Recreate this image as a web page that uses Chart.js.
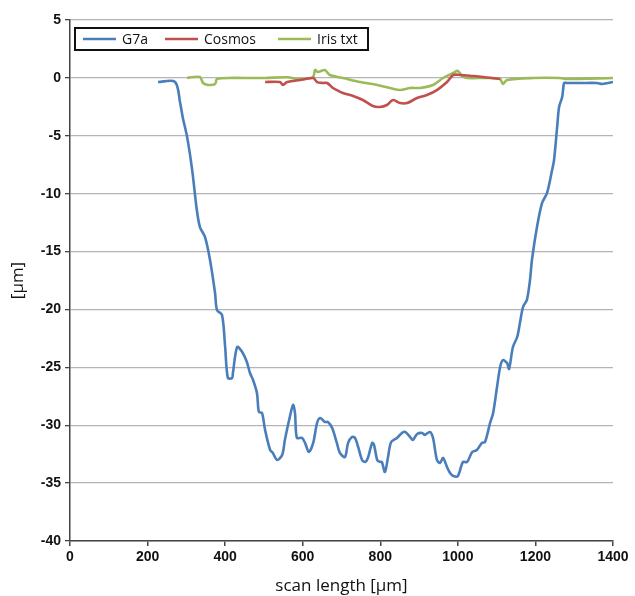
<!DOCTYPE html>
<html>
<head>
<meta charset="utf-8">
<script src="https://cdn.jsdelivr.net/npm/chart.js@4/dist/chart.umd.min.js"></script>
<style>
  html, body { margin: 0; padding: 0; background: #fff; }
  #wrap { width: 635px; height: 596px; }
</style>
</head>
<body>
<div id="wrap"><canvas id="perfil"></canvas></div>
<script>
const g7aX = [227, 271, 284, 291, 302, 315, 327, 335, 348, 361, 374, 379, 392, 400, 407, 418, 420, 431, 444, 456, 464, 472, 482, 487, 495, 503, 516, 523, 534, 547, 554, 565, 575, 580, 585, 598, 606, 616, 627, 637, 645, 657, 665, 676, 688, 696, 709, 717, 727, 735, 743, 753, 761, 768, 779, 784, 792, 799, 804, 812, 820, 828, 843, 856, 864, 877, 884, 895, 908, 915, 928, 936, 946, 954, 962, 972, 980, 988, 1000, 1013, 1024, 1037, 1049, 1062, 1070, 1083, 1091, 1101, 1109, 1116, 1127, 1132, 1142, 1153, 1160, 1168, 1178, 1186, 1191, 1204, 1217, 1230, 1243, 1248, 1256, 1261, 1269, 1274, 1281, 1315, 1359, 1372, 1387, 1400];
const g7aY = [-0.35, -0.35, -2.17, -3.46, -5.11, -7.96, -11.41, -12.88, -13.74, -15.73, -18.58, -20.05, -20.48, -23.24, -25.92, -25.92, -25.49, -23.24, -23.67, -24.54, -25.49, -26.09, -27.22, -28.86, -28.94, -30.41, -32.14, -32.40, -33.0, -32.57, -31.28, -29.55, -28.25, -28.94, -31.10, -31.10, -31.53, -32.31, -31.53, -29.81, -29.38, -29.72, -29.72, -30.24, -31.53, -32.40, -32.74, -31.53, -31.02, -31.10, -31.88, -33.0, -33.17, -32.83, -31.53, -31.71, -33.0, -33.17, -33.17, -34.04, -32.74, -31.45, -31.10, -30.67, -30.58, -31.02, -31.28, -30.76, -30.67, -30.84, -30.58, -31.10, -33.0, -33.26, -32.83, -33.61, -34.13, -34.39, -34.39, -33.17, -33.17, -32.31, -32.14, -31.53, -31.45, -29.81, -28.94, -26.70, -24.97, -24.37, -24.63, -25.14, -23.24, -22.38, -21.17, -19.79, -19.18, -17.46, -15.73, -12.88, -10.81, -9.94, -7.96, -7.09, -4.24, -2.51, -1.65, -0.44, -0.44, -0.44, -0.44, -0.53, -0.44, -0.35];

const cosmosX = [503, 541, 549, 560, 593, 627, 637, 652, 663, 678, 688, 704, 730, 755, 781, 799, 817, 833, 851, 869, 895, 920, 946, 972, 988, 1006, 1039, 1065, 1088, 1109];
const cosmosY = [-0.36, -0.36, -0.61, -0.36, -0.18, -0.01, -0.36, -0.44, -0.44, -0.87, -1.05, -1.31, -1.56, -1.91, -2.43, -2.51, -2.34, -1.91, -2.17, -2.17, -1.74, -1.48, -1.05, -0.36, 0.25, 0.25, 0.16, 0.08, -0.01, -0.10];

const irisX = [302, 335, 343, 356, 374, 379, 420, 464, 503, 560, 593, 626, 632, 639, 657, 670, 704, 748, 792, 825, 851, 877, 902, 936, 962, 988, 1000, 1011, 1024, 1075, 1109, 1116, 1127, 1194, 1263, 1281, 1400];
const irisY = [0, 0.08, -0.44, -0.61, -0.53, -0.10, 0, -0.01, -0.01, 0.05, -0.10, 0.05, 0.68, 0.51, 0.68, 0.25, -0.01, -0.36, -0.61, -0.87, -1.05, -0.87, -0.87, -0.61, -0.01, 0.42, 0.60, 0.16, -0.01, -0.01, -0.10, -0.53, -0.18, -0.01, -0.01, -0.10, -0.01];

const etiquetas = ['G7a', 'Cosmos', 'Iris txt'];
const colores = ['#4a7ebb', '#c0504d', '#9bbb59'];

function puntos(xs, ys) {
    return xs.map((x, i) => ({ x: x, y: ys[i] }));
}

const fuente = "'Open Sans', Lato, sans-serif";
const fuenteEjes = "'Liberation Sans', 'DejaVu Sans', sans-serif";

// Leyenda con recuadro dentro del área del gráfico
const leyendaRecuadro = {
    id: 'leyendaRecuadro',
    afterDraw(chart) {
        const ctx = chart.ctx;
        ctx.save();
        ctx.fillStyle = '#fff';
        ctx.fillRect(75, 28, 293, 22);
        ctx.strokeStyle = '#111';
        ctx.lineWidth = 2;
        ctx.strokeRect(75, 28, 293, 22);
        const xs = [83, 165, 278];
        ctx.font = '14px ' + fuente;
        ctx.textBaseline = 'middle';
        etiquetas.forEach((t, i) => {
            ctx.strokeStyle = colores[i];
            ctx.lineWidth = 2.5;
            ctx.beginPath();
            ctx.moveTo(xs[i], 39);
            ctx.lineTo(xs[i] + 33, 39);
            ctx.stroke();
            ctx.fillStyle = '#111';
            ctx.fillText(t, xs[i] + 39, 40);
        });
        ctx.restore();
    }
};

const ctx = document.getElementById('perfil');
new Chart(ctx, {
    type: 'scatter',
    data: {
        datasets: [
            { label: etiquetas[0], data: puntos(g7aX, g7aY), borderColor: colores[0] },
            { label: etiquetas[1], data: puntos(cosmosX, cosmosY), borderColor: colores[1] },
            { label: etiquetas[2], data: puntos(irisX, irisY), borderColor: colores[2] }
        ].map(d => Object.assign(d, {
            showLine: true,
            pointRadius: 0,
            borderWidth: 2.6,
            tension: 0.3,
            fill: false
        }))
    },
    options: {
        responsive: true,
        maintainAspectRatio: false,
        animation: false,
        layout: { padding: { left: 8, right: 22, top: 20, bottom: 0 } },
        scales: {
            x: {
                type: 'linear',
                min: 0,
                max: 1400,
                afterFit: s => { s.height = 55; },
                ticks: {
                    stepSize: 200,
                    padding: 3,
                    color: '#111',
                    callback: v => String(v),
                    font: { family: fuenteEjes, size: 14, weight: 'bold' }
                },
                grid: { drawOnChartArea: false, tickLength: 5, tickColor: '#444', lineWidth: 1.5 },
                border: { color: '#444', width: 1.5 },
                title: {
                    display: true,
                    text: 'scan length [µm]',
                    color: '#111',
                    padding: { top: 2, bottom: 0 },
                    font: { family: fuente, size: 17 }
                }
            },
            y: {
                min: -40,
                max: 5,
                afterFit: s => { s.width = 62; },
                ticks: {
                    stepSize: 5,
                    padding: 4,
                    color: '#111',
                    callback: v => String(v),
                    font: { family: fuenteEjes, size: 14, weight: 'bold' }
                },
                grid: { color: '#b4b4b4', lineWidth: 1.3, tickLength: 5, tickColor: '#444' },
                border: { color: '#444', width: 1.5 },
                title: {
                    display: true,
                    text: '[µm]',
                    color: '#111',
                    padding: 0,
                    font: { family: fuente, size: 17 }
                }
            }
        },
        plugins: {
            legend: { display: false },
            tooltip: { enabled: false }
        }
    },
    plugins: [leyendaRecuadro]
});
</script>
</body>
</html>
